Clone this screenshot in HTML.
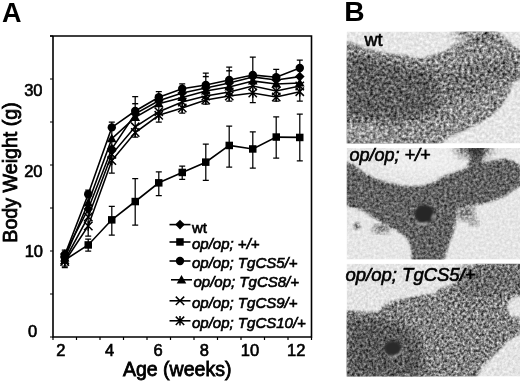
<!DOCTYPE html>
<html><head><meta charset="utf-8"><style>
html,body{margin:0;padding:0;background:#fff;}
body{width:520px;height:382px;overflow:hidden;position:relative;}
svg{position:absolute;left:0;top:0;}
text{font-family:"Liberation Sans",sans-serif;stroke:#000;stroke-width:0.62px;}
text.L{stroke-width:0.8px;}
text.b{stroke:none;}
</style></head><body>
<svg width="520" height="382" viewBox="0 0 520 382">
<text x="2" y="21.8" font-size="27" font-weight="bold" class="b">A</text>
<text x="344.3" y="21.3" font-size="28.2" font-weight="bold" class="b">B</text>
<g fill="none" stroke="#000">
<path d="M53 36V337H311.5V36H50" stroke-width="1.6"/>
<path d="M53.0 337L53.0 340 M76.5 337L76.5 340 M100.0 337L100.0 340 M123.5 337L123.5 340 M147.0 337L147.0 340 M170.5 337L170.5 340 M194.0 337L194.0 340 M217.5 337L217.5 340 M241.0 337L241.0 340 M264.5 337L264.5 340 M288.0 337L288.0 340 M311.5 337L311.5 340 M50 337.0L53 337.0 M50 294.0L53 294.0 M50 251.0L53 251.0 M50 208.0L53 208.0 M50 165.0L53 165.0 M50 122.0L53 122.0 M50 79.0L53 79.0 M50 36.0L53 36.0" stroke-width="1.2"/>
</g>
<g font-size="16.5">
<text x="42.5" y="95.8" text-anchor="end">30</text>
<text x="42.5" y="177.3" text-anchor="end">20</text>
<text x="43" y="256.7" text-anchor="end">10</text>
<text x="37.2" y="337.3" text-anchor="end">0</text>
<text x="60.8" y="356" text-anchor="middle">2</text>
<text x="109.6" y="356" text-anchor="middle">4</text>
<text x="158" y="356" text-anchor="middle">6</text>
<text x="204.3" y="356" text-anchor="middle">8</text>
<text x="250" y="356" text-anchor="middle">10</text>
<text x="296.2" y="356" text-anchor="middle">12</text>
</g>
<text x="123" y="375.5" font-size="19.5" class="L">Age (weeks)</text>
<text transform="translate(17.2,242.7) rotate(-90)" font-size="19.65" class="L">Body Weight (g)</text>
<defs>
<filter id="bl" x="-10%" y="-10%" width="120%" height="120%"><feGaussianBlur stdDeviation="1.3"/></filter>
<filter id="bl2" x="-10%" y="-10%" width="120%" height="120%"><feGaussianBlur stdDeviation="2.5"/></filter>
<filter id="bl5" x="-20%" y="-20%" width="140%" height="140%"><feGaussianBlur stdDeviation="5"/></filter>
<filter id="bl3" x="-30%" y="-30%" width="160%" height="160%"><feGaussianBlur stdDeviation="4"/></filter>
<filter id="nz1" color-interpolation-filters="sRGB" filterUnits="userSpaceOnUse" x="346" y="30" width="175" height="348"><feTurbulence type="fractalNoise" baseFrequency="0.34" numOctaves="2" seed="5"/><feColorMatrix type="matrix" values="1.25 0 0 0 -0.125  1.25 0 0 0 -0.125  1.25 0 0 0 -0.125  0 0 0 0 1"/><feGaussianBlur stdDeviation="0.5"/></filter>
<filter id="nz2" color-interpolation-filters="sRGB" filterUnits="userSpaceOnUse" x="346" y="30" width="175" height="348"><feTurbulence type="fractalNoise" baseFrequency="0.38" numOctaves="2" seed="8"/><feColorMatrix type="matrix" values="0.95 0 0 0 0.025000000000000022  0.95 0 0 0 0.025000000000000022  0.95 0 0 0 0.025000000000000022  0 0 0 0 1"/><feGaussianBlur stdDeviation="0.5"/></filter>
<filter id="nz3" color-interpolation-filters="sRGB" filterUnits="userSpaceOnUse" x="346" y="30" width="175" height="348"><feTurbulence type="fractalNoise" baseFrequency="0.38" numOctaves="2" seed="9"/><feColorMatrix type="matrix" values="1.2 0 0 0 -0.09999999999999998  1.2 0 0 0 -0.09999999999999998  1.2 0 0 0 -0.09999999999999998  0 0 0 0 1"/><feGaussianBlur stdDeviation="0.5"/></filter>
<clipPath id="c1"><rect x="346.6" y="31.6" width="173.39999999999998" height="111.9"/></clipPath>
<clipPath id="c2"><rect x="346.6" y="148.1" width="173.39999999999998" height="111.50000000000003"/></clipPath>
<clipPath id="c3"><rect x="346.6" y="263.7" width="173.39999999999998" height="112.80000000000001"/></clipPath>
</defs>
<g clip-path="url(#c1)">
<rect x="346.6" y="31.6" width="173.39999999999998" height="111.9" fill="#e6e6e6"/>
<path d="M346,41 L360,46 L375.6,51 L391,54 L406,55.5 L421.5,58.6 L430,55.5 L445,51 L454.5,44.8 L466.7,40 L479,35 L488,31 L496,31 L505,38 L513,45 L521,52 L521,76 L514,82 L508,95 L500,108 L490,117 L478,124 L465,130 L449,137 L440,144 L432,146 L346,146 Z" fill="#8e8e8e" filter="url(#bl)"/>
<path d="M346,52 L380,60 L415,68 L440,72 L440,112 L400,122 L346,120 Z" fill="#5e5e5e" filter="url(#bl5)"/>
<path d="M440,72 L480,62 L521,58 L521,74 L480,92 L440,106 Z" fill="#767676" filter="url(#bl5)"/>
<ellipse cx="365" cy="135" rx="22" ry="10" fill="#9a9a9a" filter="url(#bl3)"/>
<ellipse cx="473" cy="33" rx="20" ry="7" fill="#555" opacity="0.6" filter="url(#bl3)"/>
</g>
<g clip-path="url(#c2)">
<rect x="346.6" y="148.1" width="173.39999999999998" height="111.50000000000003" fill="#e6e6e6"/>
<ellipse cx="420" cy="160" rx="40" ry="14" fill="#eeeeee" filter="url(#bl3)"/>
<path d="M346,161.8 L354,165 L363.4,172.5 L375.6,178.7 L391,183.3 L406,186.3 L421.5,186.3 L435,181.7 L442,177 L454.5,172.5 L466.7,168 L470,160 L470,147 L484,147 L483,163 L494.3,160.3 L506.5,158.8 L514,161.8 L521,166.4 L521,184.8 L512.6,191 L503.5,197 L491,201.6 L479,204.7 L469.8,206.2 L457.5,209.3 L456,221.5 L453,233.8 L448.4,246 L443.8,261 L412.3,261 L410.8,246 L406,236.8 L397,230.7 L384.8,224.6 L372.5,217 L363.4,210.8 L354,207.7 L346,206 Z" fill="#646464" filter="url(#bl)"/>
<ellipse cx="474" cy="149" rx="18" ry="7" fill="#222" opacity="0.7" filter="url(#bl3)"/>
<circle cx="357" cy="226" r="3.5" fill="#888" filter="url(#bl)"/>
<ellipse cx="381" cy="229" rx="9" ry="5" fill="#8a8a8a" filter="url(#bl2)"/>
<ellipse cx="466" cy="213" rx="9" ry="8" fill="#8a8a8a" filter="url(#bl2)"/>
<ellipse cx="474" cy="222" rx="5" ry="4" fill="#9a9a9a" filter="url(#bl2)"/>
</g>
<g clip-path="url(#c3)">
<rect x="346.6" y="263.7" width="173.39999999999998" height="112.80000000000001" fill="#e4e4e4"/>
<path d="M346,310.5 L357.2,311.4 L369.5,312.6 L378.7,312 L383.3,306 L391,301.3 L406,298.3 L421.5,295.2 L435,293.7 L439,289 L448.4,286 L460.6,281.4 L469.8,272.2 L476,264.6 L476,262 L521,262 L521,296 L512.6,296.7 L506.5,306 L510,316 L521,318 L521,333.5 L509.6,339.6 L500.4,348.8 L491.2,358 L482,367 L476,378 L346,378 Z" fill="#828282" filter="url(#bl)"/>
<path d="M346,318 L380,318 L405,325 L420,340 L425,378 L346,378 Z" fill="#5a5a5a" filter="url(#bl5)"/>
<path d="M462 266 L521 266 L521 290 L500 294 L472 300 L456 292 Z" fill="#6e6e6e" filter="url(#bl3)"/>
</g>
<rect clip-path="url(#c1)" x="346.6" y="31.6" width="173.39999999999998" height="111.9" fill="#fff" filter="url(#nz1)" style="mix-blend-mode:overlay"/>
<rect clip-path="url(#c2)" x="346.6" y="148.1" width="173.39999999999998" height="111.50000000000003" fill="#fff" filter="url(#nz2)" style="mix-blend-mode:overlay"/>
<rect clip-path="url(#c3)" x="346.6" y="263.7" width="173.39999999999998" height="112.80000000000001" fill="#fff" filter="url(#nz3)" style="mix-blend-mode:overlay"/>
<filter id="nb" x="-30%" y="-30%" width="160%" height="160%"><feGaussianBlur stdDeviation="0.9"/></filter>
<ellipse cx="424.5" cy="214" rx="10" ry="9.3" fill="#262626" filter="url(#nb)"/>
<path d="M416 222 Q421 226 428 222.5 M432 219 L434 214" stroke="#d8d8d8" stroke-width="1.6" fill="none" filter="url(#nb)"/>
<ellipse cx="392.8" cy="348.3" rx="8.6" ry="7.2" fill="#2c2c2c" filter="url(#nb)"/>
<path d="M389.5 357.2 Q399 357 402.6 350" stroke="#c8c8c8" stroke-width="1.6" fill="none" filter="url(#nb)"/>
<text x="364.5" y="46" font-size="18">wt</text>
<text x="349.5" y="161.2" font-size="18" font-style="italic">op/op; +/+</text>
<text x="345.5" y="280.8" font-size="18.5" font-style="italic">op/op; TgCS5/+</text>
<path d="M64.8 252.0L64.8 266.0M61.8 252.0L67.8 252.0M61.8 266.0L67.8 266.0" fill="none" stroke="#000" stroke-width="1.25"/><path d="M88.2 239.0L88.2 251.0M85.2 239.0L91.2 239.0M85.2 251.0L91.2 251.0" fill="none" stroke="#000" stroke-width="1.25"/><path d="M111.8 206.3L111.8 235.0M108.8 206.3L114.8 206.3M108.8 235.0L114.8 235.0" fill="none" stroke="#000" stroke-width="1.25"/><path d="M135.2 178.6L135.2 225.0M132.2 178.6L138.2 178.6M132.2 225.0L138.2 225.0" fill="none" stroke="#000" stroke-width="1.25"/><path d="M158.8 171.8L158.8 195.7M155.8 171.8L161.8 171.8M155.8 195.7L161.8 195.7" fill="none" stroke="#000" stroke-width="1.25"/><path d="M182.2 166.2L182.2 179.4M179.2 166.2L185.2 166.2M179.2 179.4L185.2 179.4" fill="none" stroke="#000" stroke-width="1.25"/><path d="M205.8 144.0L205.8 180.4M202.8 144.0L208.8 144.0M202.8 180.4L208.8 180.4" fill="none" stroke="#000" stroke-width="1.25"/><path d="M229.2 126.0L229.2 167.0M226.2 126.0L232.2 126.0M226.2 167.0L232.2 167.0" fill="none" stroke="#000" stroke-width="1.25"/><path d="M252.8 131.9L252.8 168.2M249.8 131.9L255.8 131.9M249.8 168.2L255.8 168.2" fill="none" stroke="#000" stroke-width="1.25"/><path d="M276.2 116.9L276.2 158.1M273.2 116.9L279.2 116.9M273.2 158.1L279.2 158.1" fill="none" stroke="#000" stroke-width="1.25"/><path d="M299.8 114.2L299.8 160.9M296.8 114.2L302.8 114.2M296.8 160.9L302.8 160.9" fill="none" stroke="#000" stroke-width="1.25"/><path d="M64.8 250.0L64.8 267.5M61.8 250.0L67.8 250.0M61.8 267.5L67.8 267.5" fill="none" stroke="#000" stroke-width="1.25"/><path d="M88.2 190.0L88.2 236.0M85.2 190.0L91.2 190.0M85.2 236.0L91.2 236.0" fill="none" stroke="#000" stroke-width="1.25"/><path d="M111.8 122.0L111.8 173.0M108.8 122.0L114.8 122.0M108.8 173.0L114.8 173.0" fill="none" stroke="#000" stroke-width="1.25"/><path d="M135.2 96.5L135.2 137.0M132.2 96.5L138.2 96.5M132.2 137.0L138.2 137.0" fill="none" stroke="#000" stroke-width="1.25"/><path d="M132.2 103.7L138.2 103.7" stroke="#000" stroke-width="1.4"/><path d="M158.8 91.5L158.8 122.0M155.8 91.5L161.8 91.5M155.8 122.0L161.8 122.0" fill="none" stroke="#000" stroke-width="1.25"/><path d="M182.2 83.8L182.2 113.0M179.2 83.8L185.2 83.8M179.2 113.0L185.2 113.0" fill="none" stroke="#000" stroke-width="1.25"/><path d="M205.8 73.0L205.8 104.0M202.8 73.0L208.8 73.0M202.8 104.0L208.8 104.0" fill="none" stroke="#000" stroke-width="1.25"/><path d="M202.8 76.6L208.8 76.6" stroke="#000" stroke-width="1.4"/><path d="M229.2 67.2L229.2 101.0M226.2 67.2L232.2 67.2M226.2 101.0L232.2 101.0" fill="none" stroke="#000" stroke-width="1.25"/><path d="M226.2 70.8L232.2 70.8" stroke="#000" stroke-width="1.4"/><path d="M252.8 57.2L252.8 102.5M249.8 57.2L255.8 57.2M249.8 102.5L255.8 102.5" fill="none" stroke="#000" stroke-width="1.25"/><path d="M276.2 69.4L276.2 101.0M273.2 69.4L279.2 69.4M273.2 101.0L279.2 101.0" fill="none" stroke="#000" stroke-width="1.25"/><path d="M299.8 60.0L299.8 101.0M296.8 60.0L302.8 60.0M296.8 101.0L302.8 101.0" fill="none" stroke="#000" stroke-width="1.25"/>
<polyline points="64.8,255.0 88.2,194.3 111.8,127.4 135.2,111.0 158.8,97.2 182.2,88.8 205.8,85.0 229.2,80.0 252.8,75.0 276.2,77.3 299.8,68.0" fill="none" stroke="#000" stroke-width="1.6"/><polyline points="64.8,258.0 88.2,203.0 111.8,138.6 135.2,117.4 158.8,103.7 182.2,97.5 205.8,91.0 229.2,87.0 252.8,81.0 276.2,84.0 299.8,83.0" fill="none" stroke="#000" stroke-width="1.6"/><polyline points="64.8,254.0 88.2,209.0 111.8,148.8 135.2,113.8 158.8,100.8 182.2,93.0 205.8,88.0 229.2,83.0 252.8,77.0 276.2,80.0 299.8,76.6" fill="none" stroke="#000" stroke-width="1.6"/><polyline points="64.8,260.0 88.2,217.0 111.8,154.3 135.2,126.8 158.8,111.7 182.2,102.0 205.8,96.0 229.2,92.0 252.8,86.0 276.2,91.0 299.8,86.0" fill="none" stroke="#000" stroke-width="1.6"/><polyline points="64.8,261.5 88.2,226.0 111.8,160.6 135.2,132.5 158.8,115.3 182.2,108.0 205.8,100.0 229.2,96.0 252.8,93.0 276.2,97.0 299.8,91.7" fill="none" stroke="#000" stroke-width="1.6"/><polyline points="64.8,260.0 88.2,245.0 111.8,219.8 135.2,201.5 158.8,182.8 182.2,172.4 205.8,162.2 229.2,145.4 252.8,149.0 276.2,137.1 299.8,137.4" fill="none" stroke="#000" stroke-width="1.6"/>
<g fill="#000"><path d="M60.5 257.3L69.0 265.7M69.0 257.3L60.5 265.7M64.8 256.8L64.8 266.2" fill="none" stroke="#000" stroke-width="1.5"/><path d="M60.5 255.8L69.0 264.2M69.0 255.8L60.5 264.2" fill="none" stroke="#000" stroke-width="1.5"/><path d="M64.8 253.2L69.5 261.6L60.0 261.6Z"/><path d="M64.8 249.2L69.5 254.0L64.8 258.8L60.0 254.0Z"/><circle cx="64.8" cy="255.0" r="4.2"/><rect x="61.0" y="256.2" width="7.5" height="7.5"/><path d="M84.0 221.8L92.5 230.2M92.5 221.8L84.0 230.2M88.2 221.3L88.2 230.7" fill="none" stroke="#000" stroke-width="1.5"/><path d="M84.0 212.8L92.5 221.2M92.5 212.8L84.0 221.2" fill="none" stroke="#000" stroke-width="1.5"/><path d="M88.2 198.2L93.0 206.6L83.5 206.6Z"/><path d="M88.2 204.2L93.0 209.0L88.2 213.8L83.5 209.0Z"/><circle cx="88.2" cy="194.3" r="4.2"/><rect x="84.5" y="241.2" width="7.5" height="7.5"/><path d="M107.5 156.4L116.0 164.8M116.0 156.4L107.5 164.8M111.8 155.9L111.8 165.3" fill="none" stroke="#000" stroke-width="1.5"/><path d="M107.5 150.1L116.0 158.5M116.0 150.1L107.5 158.5" fill="none" stroke="#000" stroke-width="1.5"/><path d="M111.8 133.8L116.5 142.2L107.0 142.2Z"/><path d="M111.8 144.0L116.5 148.8L111.8 153.6L107.0 148.8Z"/><circle cx="111.8" cy="127.4" r="4.2"/><rect x="108.0" y="216.1" width="7.5" height="7.5"/><path d="M131.1 128.3L139.4 136.7M139.4 128.3L131.1 136.7M135.2 127.8L135.2 137.2" fill="none" stroke="#000" stroke-width="1.5"/><path d="M131.1 122.6L139.4 131.0M139.4 122.6L131.1 131.0" fill="none" stroke="#000" stroke-width="1.5"/><path d="M135.2 112.6L140.1 121.0L130.4 121.0Z"/><path d="M135.2 109.0L140.1 113.8L135.2 118.6L130.4 113.8Z"/><circle cx="135.2" cy="111.0" r="4.2"/><rect x="131.5" y="197.8" width="7.5" height="7.5"/><path d="M154.6 111.1L162.9 119.5M162.9 111.1L154.6 119.5M158.8 110.6L158.8 120.0" fill="none" stroke="#000" stroke-width="1.5"/><path d="M154.6 107.5L162.9 115.9M162.9 107.5L154.6 115.9" fill="none" stroke="#000" stroke-width="1.5"/><path d="M158.8 98.9L163.6 107.3L153.9 107.3Z"/><path d="M158.8 96.0L163.6 100.8L158.8 105.6L153.9 100.8Z"/><circle cx="158.8" cy="97.2" r="4.2"/><rect x="155.0" y="179.1" width="7.5" height="7.5"/><path d="M178.1 103.8L186.4 112.2M186.4 103.8L178.1 112.2M182.2 103.3L182.2 112.7" fill="none" stroke="#000" stroke-width="1.5"/><path d="M178.1 97.8L186.4 106.2M186.4 97.8L178.1 106.2" fill="none" stroke="#000" stroke-width="1.5"/><path d="M182.2 92.7L187.1 101.1L177.4 101.1Z"/><path d="M182.2 88.2L187.1 93.0L182.2 97.8L177.4 93.0Z"/><circle cx="182.2" cy="88.8" r="4.2"/><rect x="178.5" y="168.7" width="7.5" height="7.5"/><path d="M201.6 95.8L209.9 104.2M209.9 95.8L201.6 104.2M205.8 95.3L205.8 104.7" fill="none" stroke="#000" stroke-width="1.5"/><path d="M201.6 91.8L209.9 100.2M209.9 91.8L201.6 100.2" fill="none" stroke="#000" stroke-width="1.5"/><path d="M205.8 86.2L210.6 94.6L200.9 94.6Z"/><path d="M205.8 83.2L210.6 88.0L205.8 92.8L200.9 88.0Z"/><circle cx="205.8" cy="85.0" r="4.2"/><rect x="202.0" y="158.4" width="7.5" height="7.5"/><path d="M225.1 91.8L233.4 100.2M233.4 91.8L225.1 100.2M229.2 91.3L229.2 100.7" fill="none" stroke="#000" stroke-width="1.5"/><path d="M225.1 87.8L233.4 96.2M233.4 87.8L225.1 96.2" fill="none" stroke="#000" stroke-width="1.5"/><path d="M229.2 82.2L234.1 90.6L224.4 90.6Z"/><path d="M229.2 78.2L234.1 83.0L229.2 87.8L224.4 83.0Z"/><circle cx="229.2" cy="80.0" r="4.2"/><rect x="225.5" y="141.7" width="7.5" height="7.5"/><path d="M248.6 88.8L256.9 97.2M256.9 88.8L248.6 97.2M252.8 88.3L252.8 97.7" fill="none" stroke="#000" stroke-width="1.5"/><path d="M248.6 81.8L256.9 90.2M256.9 81.8L248.6 90.2" fill="none" stroke="#000" stroke-width="1.5"/><path d="M252.8 76.2L257.6 84.6L247.9 84.6Z"/><path d="M252.8 72.2L257.6 77.0L252.8 81.8L247.9 77.0Z"/><circle cx="252.8" cy="75.0" r="4.2"/><rect x="249.0" y="145.2" width="7.5" height="7.5"/><path d="M272.1 92.8L280.4 101.2M280.4 92.8L272.1 101.2M276.2 92.3L276.2 101.7" fill="none" stroke="#000" stroke-width="1.5"/><path d="M272.1 86.8L280.4 95.2M280.4 86.8L272.1 95.2" fill="none" stroke="#000" stroke-width="1.5"/><path d="M276.2 79.2L281.1 87.6L271.4 87.6Z"/><path d="M276.2 75.2L281.1 80.0L276.2 84.8L271.4 80.0Z"/><circle cx="276.2" cy="77.3" r="4.2"/><rect x="272.5" y="133.3" width="7.5" height="7.5"/><path d="M295.6 87.5L303.9 95.9M303.9 87.5L295.6 95.9M299.8 87.0L299.8 96.4" fill="none" stroke="#000" stroke-width="1.5"/><path d="M295.6 81.8L303.9 90.2M303.9 81.8L295.6 90.2" fill="none" stroke="#000" stroke-width="1.5"/><path d="M299.8 78.2L304.6 86.6L294.9 86.6Z"/><path d="M299.8 71.8L304.6 76.6L299.8 81.4L294.9 76.6Z"/><circle cx="299.8" cy="68.0" r="4.2"/><rect x="296.0" y="133.7" width="7.5" height="7.5"/></g>
<g fill="#000" font-size="15"><path d="M169.5 224.6L190.5 224.6" stroke="#000" stroke-width="1.6"/><path d="M180.0 219.8L184.8 224.6L180.0 229.4L175.2 224.6Z"/><text x="192" y="232.6">wt</text><path d="M169.5 242.0L190.5 242.0" stroke="#000" stroke-width="1.6"/><rect x="176.2" y="238.2" width="7.5" height="7.5"/><text x="192" y="249.3" font-style="italic">op/op; +/+</text><path d="M169.5 261.0L190.5 261.0" stroke="#000" stroke-width="1.6"/><circle cx="180.0" cy="261.0" r="4.2"/><text x="192" y="268.3" font-style="italic">op/op; TgCS5/+</text><path d="M171.0 279.8L192.0 279.8" stroke="#000" stroke-width="1.6"/><path d="M181.5 275.0L186.3 283.4L176.7 283.4Z"/><text x="193.5" y="287.1" font-style="italic">op/op; TgCS8/+</text><path d="M169.5 300.8L190.5 300.8" stroke="#000" stroke-width="1.6"/><path d="M175.8 296.6L184.2 305.0M184.2 296.6L175.8 305.0" fill="none" stroke="#000" stroke-width="1.5"/><text x="192" y="308.1" font-style="italic">op/op; TgCS9/+</text><path d="M169.5 320.8L190.5 320.8" stroke="#000" stroke-width="1.6"/><path d="M175.8 316.6L184.2 325.0M184.2 316.6L175.8 325.0M180.0 316.1L180.0 325.5" fill="none" stroke="#000" stroke-width="1.5"/><text x="192" y="328.1" font-style="italic">op/op; TgCS10/+</text></g>
</svg>
</body></html>
